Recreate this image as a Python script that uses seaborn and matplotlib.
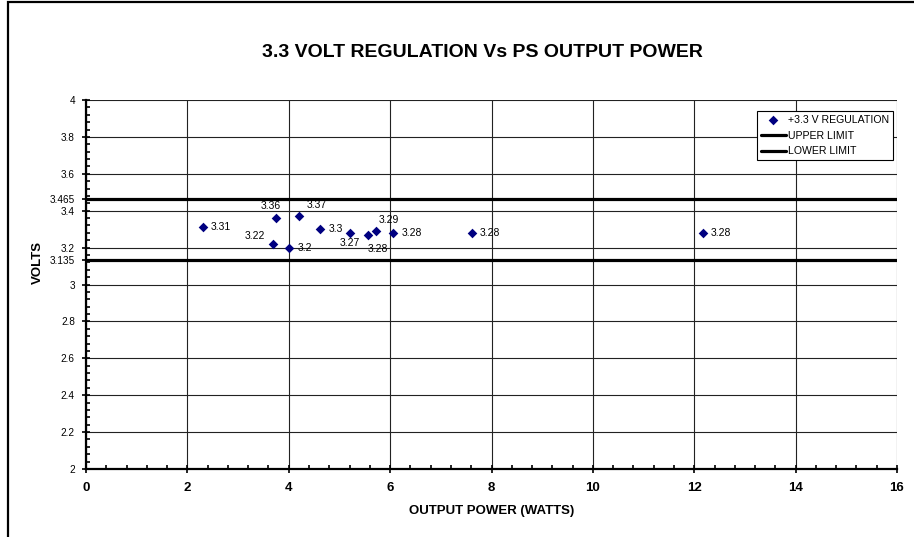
import matplotlib
matplotlib.use('Agg')
import matplotlib.pyplot as plt
from matplotlib.patches import Rectangle
from matplotlib.ticker import MultipleLocator
import seaborn as sns
import pandas as pd

# Data
power_watts = [2.30, 3.74, 3.69, 4.01, 4.20, 4.62, 5.21, 5.56, 5.72, 6.06, 7.61, 12.17]
volts = [3.31, 3.36, 3.22, 3.20, 3.37, 3.30, 3.28, 3.27, 3.29, 3.28, 3.28, 3.28]
point_labels = ['3.31', '3.36', '3.22', '3.2', '3.37', '3.3', '3.27', '3.28', '3.29', '3.28', '3.28', '3.28']
upper_limit = 3.465
lower_limit = 3.135

# label placement (pixel offsets from the point, alignment) like the original
label_pos = [
    (8, 0, 'left'), (5, 12, 'right'), (-8, 8, 'right'), (8, 0, 'left'),
    (8, 11, 'left'), (8, 0, 'left'), (0, -10, 'center'), (10, -14, 'center'),
    (13, 11, 'center'), (8, 0, 'left'), (8, 0, 'left'), (8, 0, 'left'),
]

sns.set_style('white')
plt.rcParams['font.family'] = ['Liberation Sans', 'DejaVu Sans']
for key in ['text.color', 'axes.labelcolor', 'xtick.color', 'ytick.color']:
    plt.rcParams[key] = 'black'

df = pd.DataFrame({'power': power_watts, 'volts': volts})

fig = plt.figure(figsize=(9.14, 5.37), dpi=100)
ax = fig.add_axes([0.0941, 0.1266, 0.8873, 0.6872])

sns.scatterplot(data=df, x='power', y='volts', marker='D', s=24, color='#000080',
                edgecolor='#000080', linewidth=0, label='+3.3 V REGULATION', ax=ax, zorder=5)
ax.axhline(upper_limit, color='black', lw=2.3, label='UPPER LIMIT', zorder=4)
ax.axhline(lower_limit, color='black', lw=2.3, label='LOWER LIMIT', zorder=4)

for x, y, txt, (dx, dy, ha) in zip(power_watts, volts, point_labels, label_pos):
    ax.annotate(txt, (x, y), xytext=(dx, dy), textcoords='offset pixels',
                ha=ha, va='center', fontsize=7.5, color='black', zorder=6)

ax.set_xlim(0, 16)
ax.set_ylim(2, 4)
ax.xaxis.set_major_locator(MultipleLocator(2))
ax.xaxis.set_minor_locator(MultipleLocator(0.4))
yt = [2, 2.2, 2.4, 2.6, 2.8, 3, 3.135, 3.2, 3.4, 3.465, 3.6, 3.8, 4]
ax.set_yticks(yt)
ax.set_yticklabels(['2', '2.2', '2.4', '2.6', '2.8', '3', '3.135', '3.2', '3.4', '3.465', '3.6', '3.8', '4'])
ax.yaxis.set_minor_locator(MultipleLocator(0.04))
for i, t in enumerate(ax.yaxis.get_major_ticks()):
    if yt[i] in (upper_limit, lower_limit):
        t.tick1line.set_visible(False)
        t.gridline.set_visible(False)

ax.grid(True, which='major', color='#222222', lw=0.8)
ax.tick_params(axis='both', which='major', direction='inout', length=6, width=1.2, color='black')
ax.tick_params(axis='both', which='minor', direction='in', length=3, width=1.2, color='black')
ax.tick_params(axis='x', which='major', labelsize=9.5, pad=6)
ax.tick_params(axis='y', which='major', labelsize=7.2, pad=5)
ax.yaxis.set_tick_params(which='both', left=True)
ax.xaxis.set_tick_params(which='both', bottom=True)
for lbl in ax.get_xticklabels():
    lbl.set_fontweight('bold')

for side in ['top', 'right']:
    ax.spines[side].set_visible(False)
for side in ['left', 'bottom']:
    ax.spines[side].set_color('black')
    ax.spines[side].set_linewidth(1.6)

ax.set_xlabel('OUTPUT POWER (WATTS)', fontsize=9.5, fontweight='bold', labelpad=8)
ax.set_ylabel('VOLTS', fontsize=9.5, fontweight='bold', labelpad=4)
ax.yaxis.set_label_coords(-0.052, 0.56)
fig.text(0.528, 0.902, '3.3 VOLT REGULATION Vs PS OUTPUT POWER', ha='center', va='center',
         fontsize=14, fontweight='bold')

leg = ax.legend(loc='upper right', bbox_to_anchor=(0.995, 0.97), fontsize=7.6, frameon=True,
                fancybox=False, edgecolor='black', framealpha=1, borderpad=0.35,
                handlelength=2.4, handletextpad=0.2, labelspacing=0.55, borderaxespad=0)
leg.get_frame().set_linewidth(0.8)

fig.patches.append(Rectangle((8 / 914, -0.1), 1.2, 1 - 2 / 537 + 0.1, transform=fig.transFigure,
                             fill=False, edgecolor='black', lw=1.6))

fig.savefig('out.png', dpi=100)
